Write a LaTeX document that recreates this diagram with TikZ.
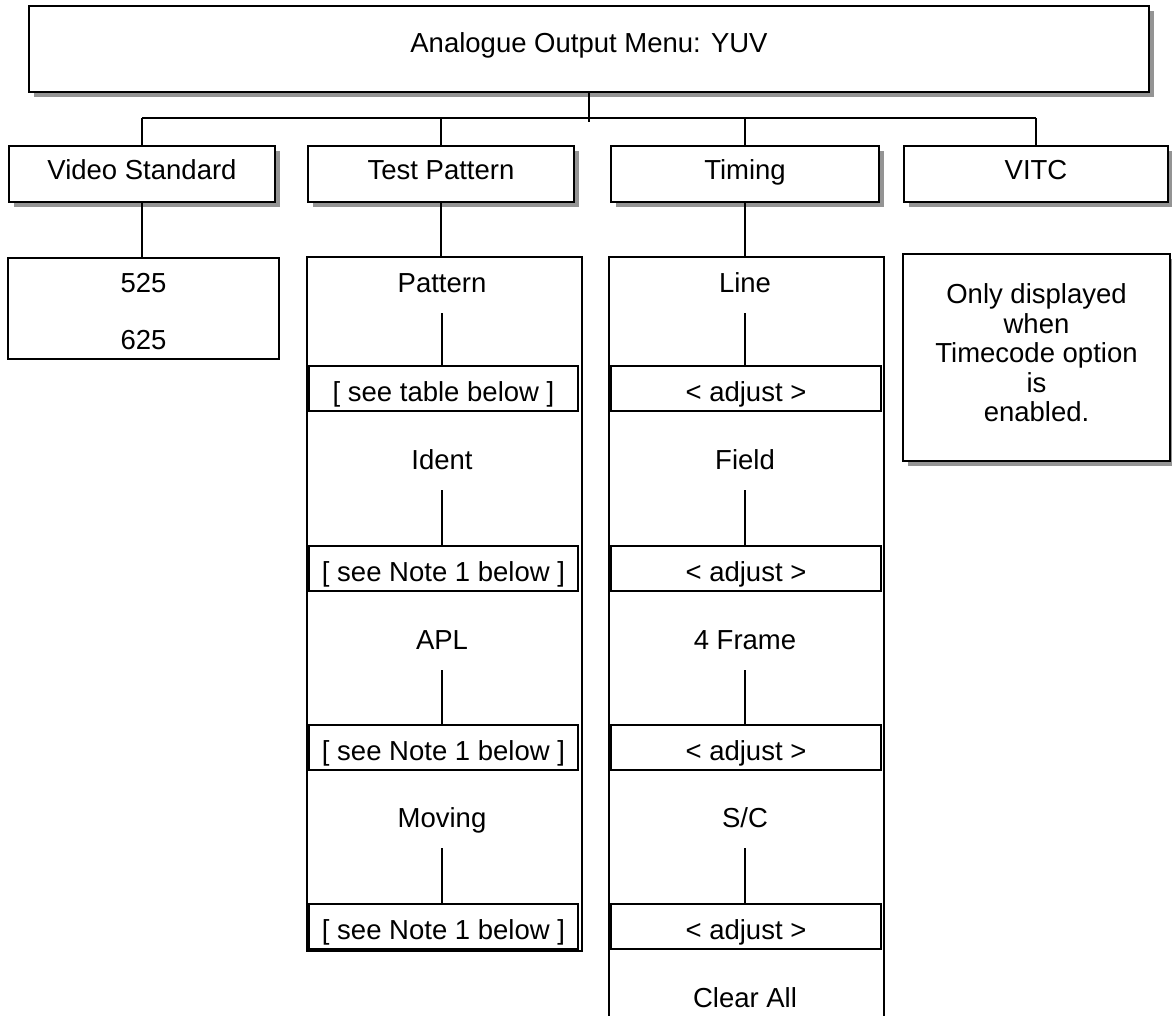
\documentclass[tikz,border=0pt]{standalone}
\usepackage{fontspec}
\setmainfont{Liberation Sans}
\usetikzlibrary{shadows}
\begin{document}
\begin{tikzpicture}[x=1pt,y=-1pt,
  every node/.style={font=\fontsize{27.5}{29.5}\selectfont, inner sep=0pt, outer sep=0pt},
  lw/.style={line width=1.3pt},
  shbox/.style={draw, lw, fill=white, text height=19.5pt, text depth=9pt,
    drop shadow={shadow xshift=5pt, shadow yshift=-5pt, fill=black!42, opacity=1}},
  plainbox/.style={draw, lw, fill=white},
  valbox/.style={draw, lw, fill=white, minimum width=269pt, minimum height=45pt, text height=25.5pt, text depth=0pt},
  lbl/.style={minimum height=60pt, text height=19.5pt, text depth=0pt},
  conn/.style={lw}
]
\useasboundingbox (0,0) rectangle (1172,1016);
\clip (0,0) rectangle (1172,1016);

% top box
\node[shbox, text depth=12pt, minimum width=1120pt, minimum height=86pt] (top) at (589,49) {Analogue Output Menu: YUV};

% row boxes
\node[shbox, minimum width=266pt, minimum height=56pt] (vs) at (142,174) {Video Standard};
\node[shbox, minimum width=266pt, minimum height=56pt] (tp) at (441,174) {Test Pattern};
\node[shbox, minimum width=268pt, minimum height=56pt] (tim) at (745,174) {Timing};
\node[shbox, minimum width=264pt, minimum height=56pt] (vitc) at (1036,174) {VITC};

% bus
\coordinate (busL) at (142,118);
\coordinate (busR) at (1036,118);
\coordinate (busTP) at (441,118);
\coordinate (busTim) at (745,118);
\coordinate (hubEnd) at (589,122);
\draw[conn] (top.south) -- (hubEnd);
\draw[conn] (busL) -- (busR);
\draw[conn] (busL) -- (vs.north);
\draw[conn] (busTP) -- (tp.north);
\draw[conn] (busTim) -- (tim.north);
\draw[conn] (busR) -- (vitc.north);

% video standard child
\node[plainbox, minimum width=271pt, minimum height=101pt] (vsc) at (143.5,308.5) {};
\node[text height=19.5pt, text depth=0pt] (v525) at (143.5,283) {525};
\node[text height=19.5pt, text depth=0pt] (v625) at (143.5,340) {625};
\draw[conn] (vs.south) -- (vs.south |- vsc.north);

% test pattern column
\node[plainbox, minimum width=275pt, minimum height=694pt] (tpc) at (444.5,604) {};
\draw[conn] (tp.south) -- (tp.south |- tpc.north);
\node[lbl] (pat) at (442,283) {Pattern};
\node[valbox] (patv) at (443.5,388.5) {[ see table below ]};
\node[lbl] (ident) at (442,460) {Ident};
\node[valbox] (identv) at (443.5,568.5) {[ see Note 1 below ]};
\node[lbl] (apl) at (442,640) {APL};
\node[valbox] (aplv) at (443.5,747.5) {[ see Note 1 below ]};
\node[lbl] (mov) at (442,818) {Moving};
\node[valbox] (movv) at (443.5,926.5) {[ see Note 1 below ]};
\draw[conn] (pat.south) -- (pat.south |- patv.north);
\draw[conn] (ident.south) -- (ident.south |- identv.north);
\draw[conn] (apl.south) -- (apl.south |- aplv.north);
\draw[conn] (mov.south) -- (mov.south |- movv.north);

% timing column
\node[plainbox, minimum width=275pt, minimum height=800pt] (timc) at (746.5,657) {};
\draw[conn] (tim.south) -- (tim.south |- timc.north);
\node[lbl] (line) at (745,283) {Line};
\node[valbox, minimum width=270pt] (linev) at (746,388.5) {< adjust >};
\node[lbl] (field) at (745,460) {Field};
\node[valbox, minimum width=270pt] (fieldv) at (746,568.5) {< adjust >};
\node[lbl] (frame) at (745,640) {4 Frame};
\node[valbox, minimum width=270pt] (framev) at (746,747.5) {< adjust >};
\node[lbl] (sc) at (745,818) {S/C};
\node[valbox, minimum width=270pt] (scv) at (746,926.5) {< adjust >};
\node[lbl] (clr) at (745,998) {Clear All};
\draw[conn] (line.south) -- (line.south |- linev.north);
\draw[conn] (field.south) -- (field.south |- fieldv.north);
\draw[conn] (frame.south) -- (frame.south |- framev.north);
\draw[conn] (sc.south) -- (sc.south |- scv.north);

% VITC note
\node[shbox, minimum width=267pt, minimum height=207pt] (note) at (1036.5,357.5) {};
\node[align=center] (notetxt) at (1036.5,353) {Only displayed\\when\\Timecode option\\is\\enabled.};
\end{tikzpicture}
\end{document}
